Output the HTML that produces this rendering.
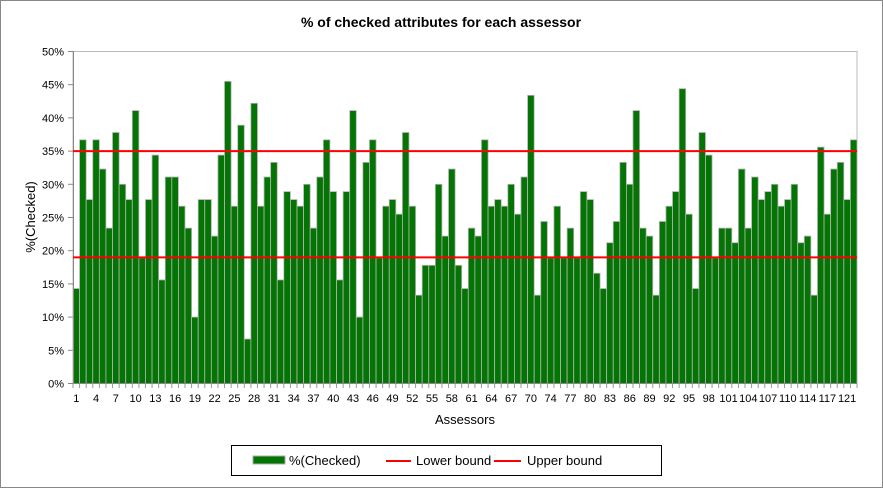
<!DOCTYPE html>
<html><head><meta charset="utf-8"><style>
html,body{margin:0;padding:0;background:#fff}
svg{display:block;font-family:"Liberation Sans",Arial,sans-serif}
</style></head><body>
<svg id="c" width="883" height="488" viewBox="0 0 883 488" xmlns="http://www.w3.org/2000/svg">
<rect x="0.5" y="0.5" width="882" height="487" fill="#fff" stroke="#888"/>
<text x="441" y="27" text-anchor="middle" font-size="14" font-weight="bold">% of checked attributes for each assessor</text>
<text transform="translate(35,217) rotate(-90)" text-anchor="middle" font-size="13">%(Checked)</text>
<text x="465" y="424" text-anchor="middle" font-size="13">Assessors</text>
<g id="g"></g>
<rect x="231.5" y="445.5" width="430" height="30" fill="#fff" stroke="#000"/>
<rect x="253" y="456" width="32" height="8" fill="#047504" stroke="#aaa"/>
<text x="289" y="465" font-size="13">%(Checked)</text>
<line x1="386" y1="461" x2="411" y2="461" stroke="#f00" stroke-width="2"/>
<text x="416" y="465" font-size="13">Lower bound</text>
<line x1="494" y1="461" x2="521" y2="461" stroke="#f00" stroke-width="2"/>
<text x="527" y="465" font-size="13">Upper bound</text>
</svg>
<script>
var v=[14.3,36.7,27.7,36.7,32.3,23.4,37.8,30,27.7,41.1,18.9,27.7,34.4,15.6,31.1,31.1,26.7,23.4,10,27.7,27.7,22.2,34.4,45.5,26.7,38.9,6.7,42.2,26.7,31.1,33.3,15.6,28.9,27.7,26.7,30,23.4,31.1,36.7,
28.9,15.6,28.9,41.1,10,33.3,36.7,18.9,26.7,27.7,25.5,37.8,26.7,13.3,17.8,17.8,30,22.2,32.3,17.8,14.3,23.4,22.2,36.7,26.7,27.7,26.7,30,25.5,31.1,43.4,13.3,24.4,18.9,26.7,18.9,23.4,18.9,28.9,27.7,
16.6,14.3,21.2,24.4,33.3,30,41.1,23.4,22.2,13.3,24.4,26.7,28.9,44.4,25.5,14.3,37.8,34.4,18.9,23.4,23.4,21.2,32.3,23.4,31.1,27.7,28.9,30,26.7,27.7,30,21.2,22.2,13.3,35.6,25.5,32.3,33.3,27.7,36.7];
var x0=73,x1=857,y0=383.5,py=6.64,n=v.length,w=(x1-x0)/n,s='';
s+='<rect x="73" y="51.5" width="784" height="332" fill="none" stroke="#bbb"/>';
for(var i=0;i<=10;i++){var y=y0-i*5*py;s+='<line x1="68" x2="73" y1="'+y+'" y2="'+y+'" stroke="#888"/>';
s+='<text x="64" y="'+(y+4)+'" text-anchor="end" font-size="11">'+(i*5)+'%</text>';}
for(var i=0;i<n;i++){var h=v[i]*py;s+='<rect x="'+(x0+i*w)+'" y="'+(y0-h)+'" width="'+w+'" height="'+h+'" fill="#047504" stroke="#b4b4b4" stroke-width="0.8"/>';}
for(var i=0;i<=n;i++){var x=x0+i*w;s+='<line x1="'+x+'" x2="'+x+'" y1="383" y2="388" stroke="#999"/>';}
s+='<line x1="73" x2="857" y1="383.5" y2="383.5" stroke="#888"/><line x1="73.5" x2="73.5" y1="51" y2="384" stroke="#888"/>';
for(var p=1;p<=n;p+=3){var lab=p<=70?p:(p<=109?p+1:p+2+(p==118?1:0));if(p==112)lab=114;if(p==115)lab=117;if(p==118)lab=121;
s+='<text x="'+(x0+(p-0.5)*w)+'" y="402" text-anchor="middle" font-size="11">'+lab+'</text>';}
s+='<line x1="73" x2="857" y1="'+(y0-35*py)+'" y2="'+(y0-35*py)+'" stroke="#f00" stroke-width="2"/>';
s+='<line x1="73" x2="857" y1="'+(y0-19*py)+'" y2="'+(y0-19*py)+'" stroke="#f00" stroke-width="2"/>';
document.getElementById('g').innerHTML=s;
</script>
</body></html>
